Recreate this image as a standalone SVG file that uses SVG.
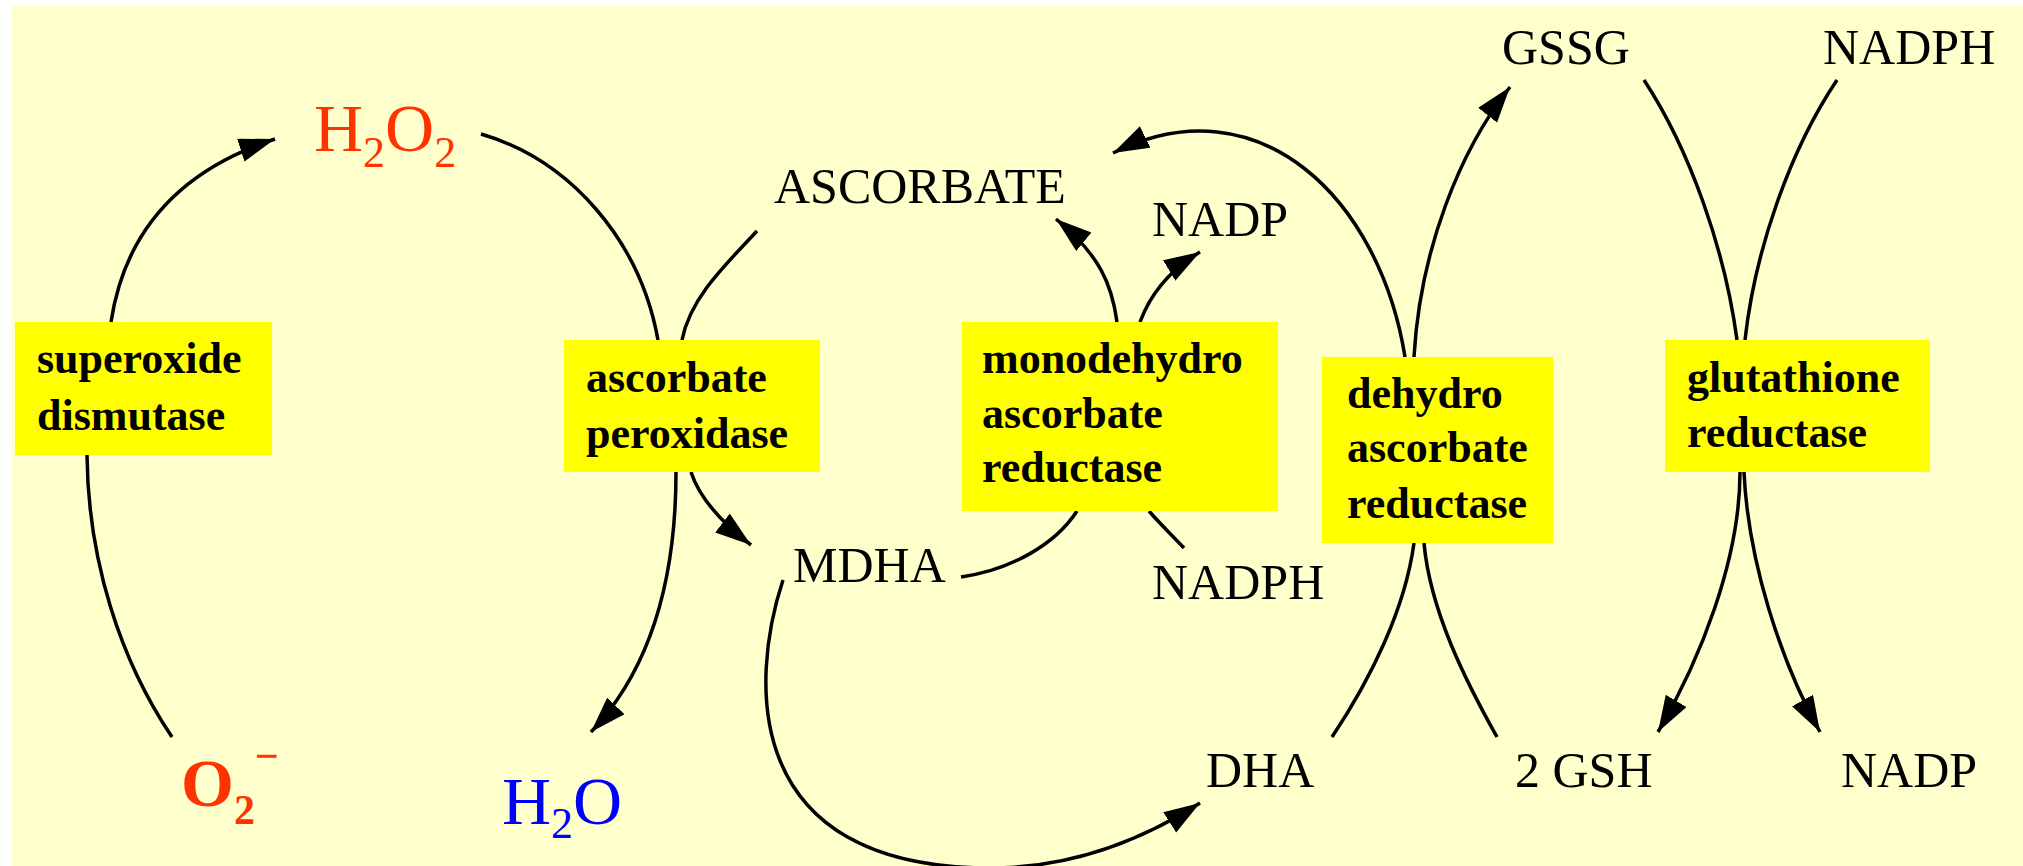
<svg xmlns="http://www.w3.org/2000/svg" width="2023" height="866" viewBox="0 0 2023 866">
<style>
.bg{fill:#FFFFCC}
.box{fill:#FFFF00}
.enz{font-family:"Liberation Serif","Times New Roman",serif;font-weight:bold;font-size:44px;fill:#000}
.lab{font-family:"Liberation Serif","Times New Roman",serif;font-size:50px;fill:#000}
.chem{font-family:"Liberation Serif","Times New Roman",serif;font-size:68px}
.red{fill:#FF3300}
.blue{fill:#0000FF}
.ln{fill:none;stroke:#000;stroke-width:3.5}
.arr{marker-end:url(#ah)}
</style>
<defs>
<marker id="ah" markerUnits="userSpaceOnUse" markerWidth="40" markerHeight="26" viewBox="0 0 40 26" refX="36" refY="12" orient="auto">
<path d="M0,0 L36,12 L0,24 Z" fill="#000"/>
</marker>
</defs>
<rect x="0" y="0" width="2023" height="866" fill="#FFFFFF"/>
<rect class="bg" x="12" y="6" width="2011" height="860"/>

<g id="connectors">
<!-- superoxide dismutase: O2- -> H2O2 -->
<path class="ln" d="M172,737 C120,660 88,560 87,455"/>
<path class="ln arr" d="M111,322 C125,230 180,170 275,139"/>
<!-- ascorbate peroxidase: H2O2 -> H2O -->
<path class="ln" d="M481,134 C570,160 640,240 658,340"/>
<path class="ln arr" d="M676,472 C676,580 650,670 591,732"/>
<!-- ascorbate peroxidase: ASCORBATE -> MDHA -->
<path class="ln" d="M757,231 C720,270 690,300 682,340"/>
<path class="ln arr" d="M691,472 C700,500 725,525 751,545"/>
<!-- MDHA reductase -->
<path class="ln" d="M961,577 C1010,570 1055,545 1077,511"/>
<path class="ln" d="M1184,548 C1172,535 1160,524 1149,511"/>
<path class="ln arr" d="M1117,322 C1112,285 1100,255 1056,219"/>
<path class="ln arr" d="M1140,322 C1150,295 1170,270 1200,252"/>
<!-- MDHA -> DHA -->
<path class="ln arr" d="M783,580 C750,680 740,868 990,868 C1080,868 1150,835 1200,803"/>
<!-- DHA reductase -->
<path class="ln" d="M1332,737 C1370,680 1405,610 1414,543"/>
<path class="ln" d="M1497,737 C1465,680 1430,610 1424,543"/>
<path class="ln arr" d="M1405,357 C1380,200 1260,80 1113,153"/>
<path class="ln arr" d="M1414,357 C1420,250 1460,150 1510,87"/>
<!-- glutathione reductase -->
<path class="ln" d="M1644,80 C1690,150 1725,250 1737,340"/>
<path class="ln" d="M1837,80 C1790,150 1755,250 1745,340"/>
<path class="ln arr" d="M1740,472 C1740,560 1700,660 1658,732"/>
<path class="ln arr" d="M1744,472 C1748,560 1780,660 1820,732"/>
</g>

<g id="sod">
<rect class="box" x="15" y="322" width="257" height="133"/>
<text class="enz" x="37" y="373">superoxide</text>
<text class="enz" x="37" y="430">dismutase</text>
</g>
<g id="apx">
<rect class="box" x="564" y="340" width="256" height="132"/>
<text class="enz" x="586" y="392">ascorbate</text>
<text class="enz" x="586" y="448">peroxidase</text>
</g>
<g id="mdhar">
<rect class="box" x="962" y="322" width="316" height="189"/>
<text class="enz" x="982" y="373">monodehydro</text>
<text class="enz" x="982" y="428">ascorbate</text>
<text class="enz" x="982" y="482">reductase</text>
</g>
<g id="dhar">
<rect class="box" x="1322" y="357" width="231" height="186"/>
<text class="enz" x="1347" y="408">dehydro</text>
<text class="enz" x="1347" y="462">ascorbate</text>
<text class="enz" x="1347" y="518">reductase</text>
</g>
<g id="gr">
<rect class="box" x="1665" y="340" width="265" height="132"/>
<text class="enz" x="1687" y="392">glutathione</text>
<text class="enz" x="1687" y="447">reductase</text>
</g>

<g id="h2o2">
<text class="chem red" x="314" y="151">H<tspan font-size="44" dy="16">2</tspan><tspan dy="-16">O</tspan><tspan font-size="44" dy="16">2</tspan></text>
</g>
<g id="o2">
<text class="chem red" x="181" y="806" font-weight="bold" font-size="64">O<tspan font-size="42" dy="18">2</tspan><tspan font-size="42" dy="-54">−</tspan></text>
</g>
<g id="h2o">
<text class="chem blue" x="502" y="824">H<tspan font-size="44" dy="14">2</tspan><tspan dy="-14">O</tspan></text>
</g>
<g id="ascorbate"><text class="lab" x="774" y="203">ASCORBATE</text></g>
<g id="nadp1"><text class="lab" x="1152" y="236">NADP</text></g>
<g id="mdha"><text class="lab" x="793" y="582">MDHA</text></g>
<g id="nadph1"><text class="lab" x="1152" y="599">NADPH</text></g>
<g id="dha"><text class="lab" x="1206" y="787">DHA</text></g>
<g id="gssg"><text class="lab" x="1502" y="64">GSSG</text></g>
<g id="nadph2"><text class="lab" x="1823" y="64">NADPH</text></g>
<g id="gsh"><text class="lab" x="1515" y="787">2 GSH</text></g>
<g id="nadp2"><text class="lab" x="1841" y="787">NADP</text></g>
</svg>
